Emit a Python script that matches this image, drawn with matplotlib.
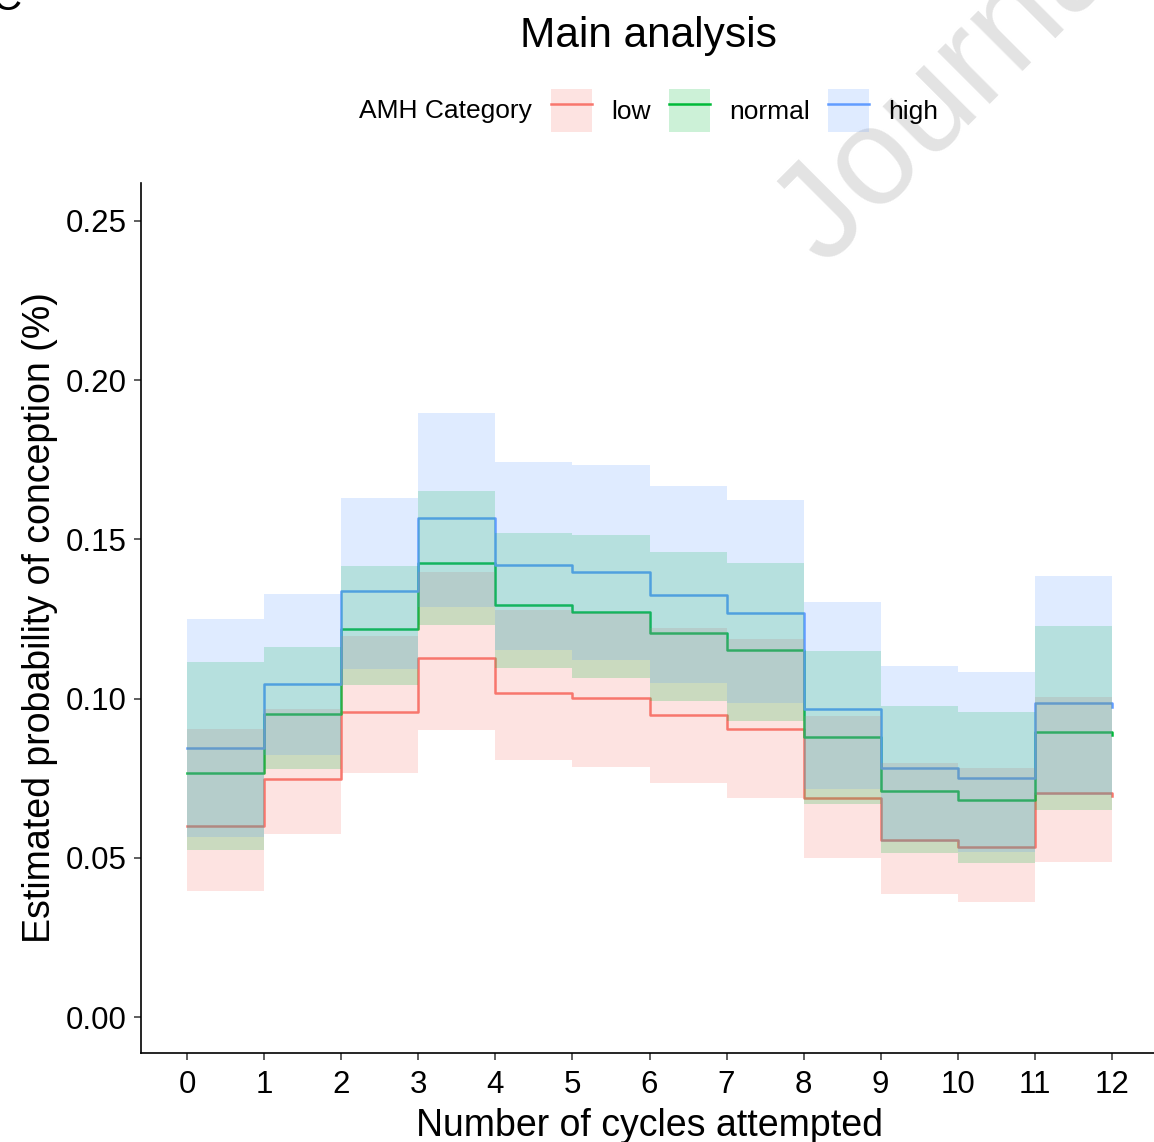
import numpy as np
import matplotlib
matplotlib.use('Agg')
import matplotlib.pyplot as plt
from matplotlib.lines import Line2D
from matplotlib.patches import Patch
from matplotlib.ticker import FormatStrFormatter

plt.rcParams['font.family'] = ['Liberation Sans', 'DejaVu Sans']

# cycles attempted, estimate per cycle (point at 12 closes the step)
cycles = np.arange(13)
groups = ['low', 'normal', 'high']
colors = ['#F8766D', '#00BA38', '#619CFF']

low_est = [0.0600, 0.0747, 0.0957, 0.1127, 0.1018, 0.1002, 0.0948, 0.0906, 0.0688, 0.0556, 0.0535, 0.0703, 0.0694]
normal_est = [0.0767, 0.0953, 0.1218, 0.1427, 0.1294, 0.1272, 0.1207, 0.1153, 0.0879, 0.0710, 0.0683, 0.0895, 0.0886]
high_est = [0.0844, 0.1047, 0.1337, 0.1567, 0.1420, 0.1397, 0.1326, 0.1268, 0.0967, 0.0781, 0.0750, 0.0985, 0.0975]

# confidence bands, one value per interval (0-1, 1-2, ... 11-12)
low_lower = [0.0397, 0.0575, 0.0765, 0.0902, 0.0807, 0.0784, 0.0734, 0.0688, 0.0500, 0.0386, 0.0362, 0.0488]
low_upper = [0.0904, 0.0967, 0.1195, 0.1399, 0.1278, 0.1268, 0.1221, 0.1187, 0.0945, 0.0797, 0.0781, 0.1005]
normal_lower = [0.0524, 0.0778, 0.1043, 0.1231, 0.1097, 0.1065, 0.0992, 0.0930, 0.0669, 0.0514, 0.0483, 0.0650]
normal_upper = [0.1114, 0.1163, 0.1417, 0.1652, 0.1519, 0.1514, 0.1461, 0.1425, 0.1150, 0.0977, 0.0959, 0.1227]
high_lower = [0.0566, 0.0823, 0.1094, 0.1289, 0.1153, 0.1121, 0.1049, 0.0985, 0.0715, 0.0551, 0.0519, 0.0697]
high_upper = [0.1250, 0.1329, 0.1629, 0.1898, 0.1742, 0.1734, 0.1668, 0.1622, 0.1302, 0.1103, 0.1083, 0.1386]

ests = [low_est, normal_est, high_est]
lowers = [low_lower, normal_lower, high_lower]
uppers = [low_upper, normal_upper, high_upper]

W, H = 1154, 1142
fig = plt.figure(figsize=(W / 100, H / 100), dpi=100)
ax = fig.add_axes([141 / W, 89 / H, (1158 - 141) / W, (1053 - 183) / H])

# lines first, ribbons drawn over them (like the ggplot layer order)
for est, c in zip(ests, colors):
    ax.plot(cycles, est, drawstyle='steps-post', color=c, lw=1.8, zorder=2)
for lo, up, c in zip(lowers, uppers, colors):
    ax.fill_between(cycles, np.append(lo, lo[-1]), np.append(up, up[-1]),
                    step='post', color=c, alpha=0.2, lw=0, zorder=3)

ax.set_xlim(-0.6, 12.6)
ax.set_ylim(-0.0113, 0.2619)
ax.set_xticks(cycles)
ax.set_yticks([0, 0.05, 0.10, 0.15, 0.20, 0.25])
ax.yaxis.set_major_formatter(FormatStrFormatter('%.2f'))
ax.tick_params(length=5, width=1.1, color='#333333', labelsize=22.5, pad=5, labelcolor='black')
ax.tick_params(axis='x', pad=7)
for s in ['top', 'right']:
    ax.spines[s].set_visible(False)
for s in ['left', 'bottom']:
    ax.spines[s].set_linewidth(1.2)
    ax.spines[s].set_color('black')

ax.set_xlabel('Number of cycles attempted', fontsize=27, labelpad=6)
ax.set_ylabel('Estimated probability of conception (%)', fontsize=27, labelpad=6)

fig.text(648.5 / W, 1 - 47 / H, 'Main analysis', fontsize=30.5, ha='center', va='baseline')

handles = [(Patch(facecolor=c, alpha=0.2, edgecolor='none'), Line2D([], [], color=c, lw=1.8))
           for c in colors]
fig.text(359 / W, 1 - 111 / H, 'AMH Category', fontsize=19, ha='left', va='center')
fig.legend(handles, groups, loc='center left', bbox_to_anchor=(551 / W, 1 - 110.5 / H),
           ncol=3, frameon=False, fontsize=19, handlelength=1.57, handleheight=2.13,
           handletextpad=0.7, columnspacing=0.7, borderpad=0, borderaxespad=0)

# panel letter and journal watermark, both cut by the page edge
fig.text(-8 / W, 1 - 10 / H, 'C', fontsize=30, ha='left', va='baseline')
fig.text(825 / W, 1 - 268 / H, 'Journal Pre-proof', fontsize=100, color='#e3e3e3',
         rotation=45, rotation_mode='anchor', ha='left', va='baseline', zorder=4)

fig.savefig('out.png', dpi=100)
